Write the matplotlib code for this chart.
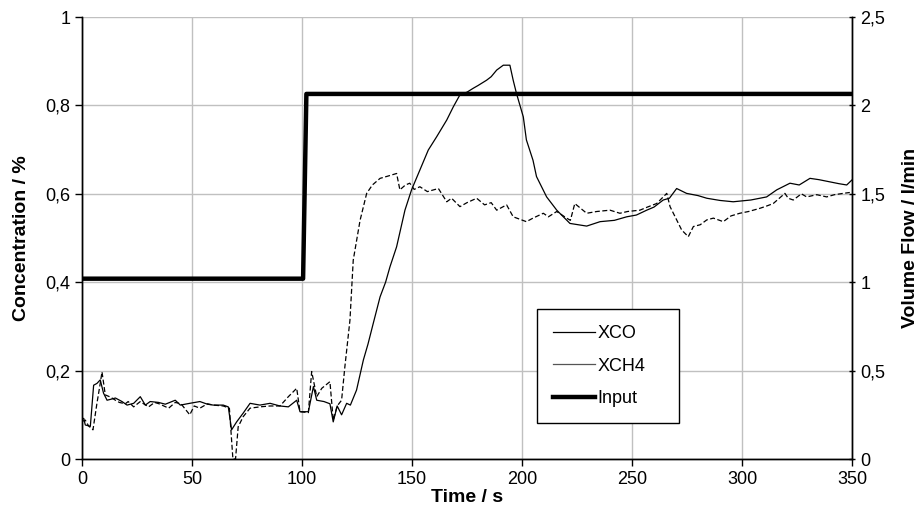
import matplotlib.pyplot as plt
from matplotlib.lines import Line2D
from matplotlib.ticker import FuncFormatter

plt.rcParams['font.family'] = ['Liberation Sans', 'DejaVu Sans']

# XCO (solid)
t_co = [0, 0.8, 1.5, 3.8, 5.3, 6.8, 8.3, 9.8, 11.4, 13, 15.2, 18.2, 20.5, 23.5, 26.5,
        28.8, 31, 34.8, 37.9, 42.4, 44.7, 49, 53.6, 57, 59.7, 64.2, 66.5, 68, 70.3,
        73.3, 76.4, 80.9, 85.5, 90, 93.8, 97.6, 99.1, 102.9, 105.2, 106.7, 110, 112.7,
        114.2, 116, 118, 120.3, 122, 124.8, 127.9, 130, 132.4, 135.5, 138, 140, 143,
        146.8, 149.8, 153.6, 157.4, 161.2, 165.8, 168.8, 171.8, 175, 177.9, 180, 183.9,
        186, 188.5, 191.5, 194.5, 196, 197.5, 200.6, 202, 205, 206.6, 211.2, 215.8,
        221.8, 229.4, 235.5, 242, 247.6, 252, 256.7, 260, 264.2, 267, 270.3, 274.8,
        280, 284, 290, 296, 304, 311.2, 315.8, 321.8, 326, 330.9, 335, 340, 344, 347.6,
        349.9]
xco = [0.09, 0.092, 0.077, 0.074, 0.167, 0.171, 0.179, 0.149, 0.133, 0.135, 0.138, 0.130,
       0.122, 0.126, 0.141, 0.122, 0.130, 0.128, 0.124, 0.133, 0.122, 0.126, 0.130, 0.124,
       0.122, 0.122, 0.118, 0.066, 0.084, 0.104, 0.126, 0.122, 0.126, 0.120, 0.118, 0.133,
       0.107, 0.107, 0.164, 0.133, 0.130, 0.125, 0.084, 0.12, 0.10, 0.126, 0.122, 0.156,
       0.224, 0.26, 0.307, 0.367, 0.40, 0.435, 0.48, 0.563, 0.609, 0.654, 0.699, 0.729,
       0.767, 0.797, 0.824, 0.83, 0.839, 0.845, 0.857, 0.865, 0.88, 0.891, 0.891, 0.857,
       0.827, 0.774, 0.722, 0.676, 0.639, 0.593, 0.563, 0.533, 0.527, 0.537, 0.540, 0.548,
       0.552, 0.563, 0.570, 0.586, 0.59, 0.612, 0.601, 0.596, 0.590, 0.585, 0.582, 0.586,
       0.593, 0.609, 0.624, 0.62, 0.635, 0.632, 0.627, 0.623, 0.620, 0.631]

# XCH4 (dashed)
t_ch4 = [0, 1.5, 3, 5, 6.8, 8.3, 9.1, 10.6, 13, 15.2, 17, 19.7, 21, 23.5, 26.5, 28, 30.3,
         33, 35, 39.4, 42.4, 45, 49, 51, 53.6, 57, 59.7, 64.2, 67, 68.6, 69.8, 71, 73.3,
         76.4, 80.9, 85.5, 90, 93.8, 97.6, 99.1, 102.9, 104.4, 106.7, 109, 112.7, 114.2,
         116, 118, 119.5, 121.8, 123.3, 126.4, 129.4, 132, 135.5, 139, 143, 144.5, 147,
         149, 151, 153.6, 157, 162, 165.8, 168, 171.8, 175, 179.4, 183, 186, 188.5, 193,
         196, 202, 205, 209.7, 212, 215.8, 220.3, 222, 224, 229.4, 234, 240, 244.5, 248,
         253.6, 257, 261.2, 265.8, 267.3, 270.3, 272.6, 275.6, 277.9, 281, 284, 287,
         291.5, 295, 299, 303, 308, 311, 314.2, 319.5, 321, 323.3, 327, 329.4, 334,
         338.5, 342, 346, 349]
xch4 = [0.085, 0.088, 0.075, 0.066, 0.126, 0.171, 0.197, 0.145, 0.14, 0.133, 0.128, 0.125,
        0.13, 0.118, 0.13, 0.125, 0.118, 0.128, 0.125, 0.115, 0.128, 0.125, 0.100, 0.12,
        0.115, 0.125, 0.122, 0.120, 0.115, 0.0, 0.0, 0.073, 0.096, 0.115, 0.118, 0.120,
        0.120, 0.141, 0.160, 0.107, 0.105, 0.198, 0.141, 0.16, 0.175, 0.088, 0.12, 0.133,
        0.209, 0.314, 0.45, 0.54, 0.601, 0.62, 0.635, 0.64, 0.646, 0.609, 0.62, 0.624,
        0.61, 0.616, 0.605, 0.612, 0.582, 0.59, 0.571, 0.58, 0.59, 0.575, 0.58, 0.563,
        0.575, 0.548, 0.537, 0.545, 0.556, 0.548, 0.560, 0.545, 0.54, 0.578, 0.556, 0.56,
        0.563, 0.556, 0.56, 0.563, 0.57, 0.578, 0.601, 0.571, 0.541, 0.518, 0.503, 0.526,
        0.53, 0.541, 0.545, 0.537, 0.55, 0.556, 0.56, 0.567, 0.572, 0.578, 0.601, 0.59,
        0.586, 0.6, 0.593, 0.598, 0.593, 0.598, 0.601, 0.603]

# Input volume flow
t_in = [0, 100.5, 102, 352]
flow_in = [1.02, 1.02, 2.065, 2.065]

comma = FuncFormatter(lambda v, p: ('%g' % v).replace('.', ','))

fig = plt.figure(figsize=(9.19, 5.32), dpi=100)
ax = fig.add_axes([0.0892, 0.1372, 0.8379, 0.8308])
ax2 = ax.twinx()

ax.plot(t_co, xco, color='black', lw=0.9)
ax.plot(t_ch4, xch4, color='black', lw=0.9, linestyle=(0, (4, 2)))
ax2.plot(t_in, flow_in, color='black', lw=3.2)

ax.set_xlim(0, 350)
ax.set_ylim(0, 1)
ax2.set_ylim(0, 2.5)
ax.set_xticks(range(0, 351, 50))
ax.set_yticks([0, 0.2, 0.4, 0.6, 0.8, 1])
ax2.set_yticks([0, 0.5, 1, 1.5, 2, 2.5])
ax.yaxis.set_major_formatter(comma)
ax2.yaxis.set_major_formatter(comma)

ax.grid(True, color='#c0c0c0', lw=1)
ax.set_axisbelow(True)
for a in (ax, ax2):
    a.spines['top'].set_visible(False)
    a.spines['left'].set_linewidth(1)
    a.spines['right'].set_linewidth(1)
    a.spines['bottom'].set_linewidth(1)
ax.tick_params(labelsize=13, length=5, width=1, direction='out')
ax2.tick_params(labelsize=13, length=5, width=1, direction='inout')

ax.set_xlabel('Time / s', fontsize=14, fontweight='bold', labelpad=1)
ax.set_ylabel('Concentration / %', fontsize=14, fontweight='bold', labelpad=11)
ax2.set_ylabel('Volume Flow / l/min', fontsize=14, fontweight='bold', labelpad=12)

handles = [Line2D([], [], color='black', lw=0.9),
           Line2D([], [], color='#555555', lw=0.9),
           Line2D([], [], color='black', lw=3.2)]
leg = ax2.legend(handles, ['XCO', 'XCH4', 'Input'], loc='lower left',
                 bbox_to_anchor=(0.591, 0.081, 0.184, 0.256), mode='expand',
                 fontsize=13, frameon=True,
                 fancybox=False, edgecolor='black', framealpha=1,
                 handlelength=2.3, handletextpad=0.15, labelspacing=0.85,
                 borderpad=0.9, borderaxespad=0)
leg.get_frame().set_linewidth(1)

fig.savefig('out.png', dpi=100)
